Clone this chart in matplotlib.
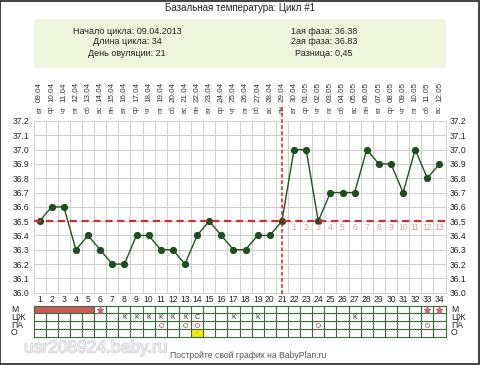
import numpy as np
import matplotlib
matplotlib.use("Agg")
import matplotlib.pyplot as plt
import matplotlib.transforms as mtransforms
import matplotlib.patheffects as pe

plt.rcParams['font.family'] = ['Liberation Sans', 'DejaVu Sans']

# data
days = np.arange(1, 35)
temps = [36.5, 36.6, 36.6, 36.3, 36.4, 36.3, 36.2, 36.2, 36.4, 36.4,
         36.3, 36.3, 36.2, 36.4, 36.5, 36.4, 36.3, 36.3, 36.4, 36.4,
         36.5, 37.0, 37.0, 36.5, 36.7, 36.7, 36.7, 37.0, 36.9, 36.9,
         36.7, 37.0, 36.8, 36.9]
dates = ['09.04', '10.04', '11.04', '12.04', '13.04', '14.04', '15.04', '16.04',
         '17.04', '18.04', '19.04', '20.04', '21.04', '22.04', '23.04', '24.04',
         '25.04', '26.04', '27.04', '28.04', '29.04', '30.04', '01.05', '02.05',
         '03.05', '04.05', '05.05', '06.05', '07.05', '08.05', '09.05', '10.05',
         '11.05', '12.05']
weekdays = ['вт', 'ср', 'чт', 'пт', 'сб', 'вс', 'пн'] * 5
ovulation_day = 21
cover_line = 36.5
phase2_days = list(range(22, 35))

# table rows
menses_fill = [1, 2, 3, 4, 5]
menses_star = [6, 33, 34]
cervix = {8: 'К', 9: 'К', 10: 'К', 11: 'К', 12: 'К', 13: 'К', 14: 'С',
          17: 'К', 19: 'К', 27: 'К'}
pa_days = [11, 13, 14, 24, 33]
o_days = [14]
row_labels = ['М', 'ЦЖ', 'ПА', 'О']

W, H = 480, 365
fig = plt.figure(figsize=(W / 100, H / 100), dpi=100)
fig.patch.set_facecolor('white')

def fx(px):
    return px / W

def fy(py):
    return 1 - py / H

# frame around the image
fig.patches.append(plt.Rectangle((0.001, 0.002), 0.997, 0.996, transform=fig.transFigure,
                                 fill=False, edgecolor='#222222', lw=1.2))

# header
fig.text(fx(240), fy(8), 'Базальная температура: Цикл #1', ha='center', va='center',
         fontsize=7, color='#222222')
fig.patches.append(plt.Rectangle((fx(34), fy(68)), fx(412), 49 / H, transform=fig.transFigure,
                                 facecolor='#eef5dc', edgecolor='none'))
left_info = ['Начало цикла: 09.04.2013', 'Длина цикла: 34', 'День овуляции: 21']
right_info = ['1ая фаза: 36.38', '2ая фаза: 36.83', 'Разница: 0,45']
for i, (a, b) in enumerate(zip(left_info, right_info)):
    y = fy(31 + i * 11)
    fig.text(fx(127), y, a, ha='center', va='center', fontsize=6.5, color='#222222')
    fig.text(fx(324), y, b, ha='center', va='center', fontsize=6.5, color='#222222')

# main chart
ax = fig.add_axes([fx(33.5), fy(292.7), fx(412), 171.7 / H])
ax.set_xlim(0.5, 34.5)
ax.set_ylim(36.0, 37.2)
yt = np.round(np.arange(36.0, 37.21, 0.1), 1)
ax.set_yticks(yt)
ax.set_xticks(days)
ax.set_xticks(np.arange(0.5, 35, 1), minor=True)
ax.tick_params(axis='both', which='both', length=0, labelsize=6.2, colors='#222222')
ax.tick_params(axis='y', labelright=True, pad=3)
ax.tick_params(axis='x', pad=2)
ax.set_yticklabels([f'{v:.1f}' for v in yt])
ax.grid(True, which='minor', axis='x', color='#cfcfcf', lw=0.7)
ax.grid(True, which='major', axis='y', color='#cfcfcf', lw=0.7)
for s in ax.spines.values():
    s.set_color('#cfcfcf')
    s.set_linewidth(0.7)

ax.plot(days, temps, color='#1e531e', lw=1.0, marker='o', markersize=4.2,
        markerfacecolor='#1e4d1e', markeredgecolor='#1e4d1e', zorder=3)
ax.axhline(cover_line, color='#d42a2a', lw=1.5, dashes=(3.5, 2.2), zorder=4)
ax.plot([ovulation_day, ovulation_day], [35.99, 37.31], color='#cc2222', lw=1.1,
        dashes=(2.5, 1.5), clip_on=False, zorder=4)
for i, d in enumerate(phase2_days):
    ax.text(d, 36.455, str(i + 1), ha='center', va='center', fontsize=6.2, color='#c9a3a3')

# dates and weekdays above
tr = mtransforms.blended_transform_factory(ax.transData, fig.transFigure)
for d, ds, wd in zip(days, dates, weekdays):
    ax.text(d, fy(102), ds, rotation=90, ha='center', va='bottom', fontsize=5.8,
            color='#333333', transform=tr, clip_on=False)
    ax.text(d, fy(113), wd, rotation=90, ha='center', va='bottom', fontsize=5.2,
            color='#444444', transform=tr, clip_on=False)

# table
tab = fig.add_axes([fx(33.5), fy(336.7), fx(412), 31 / H])
tab.set_xlim(0.5, 34.5)
tab.set_ylim(4, 0)
tab.set_xticks([])
tab.set_yticks([])
gc = '#3a6a3a'
for s in tab.spines.values():
    s.set_color(gc)
    s.set_linewidth(0.8)
for d in menses_fill:
    tab.add_patch(plt.Rectangle((d - 0.5, 0), 1, 1, facecolor='#cc5a5a', edgecolor='none'))
for d in o_days:
    tab.add_patch(plt.Rectangle((d - 0.5, 3), 1, 1, facecolor='#f5f000', edgecolor='none'))
    tab.text(d, 3.5, '-', ha='center', va='center', fontsize=5, color='#555555')
for x in np.arange(1.5, 34.5, 1):
    lo = 1 if x < 5.5 else 0
    tab.plot([x, x], [lo, 4], color=gc, lw=0.8)
for y in [1, 2, 3]:
    tab.axhline(y, color=gc, lw=0.8)
tab.plot(menses_star, [0.5] * len(menses_star), ls='none', marker='*', markersize=5,
         color='#cc6677')
for d, c in cervix.items():
    tab.text(d, 1.5, c, ha='center', va='center', fontsize=5, color='#222222')
tab.plot(pa_days, [2.5] * len(pa_days), ls='none', marker='o', markersize=3,
         markerfacecolor='none', markeredgecolor='#d08888', markeredgewidth=0.8)
for i, lab in enumerate(row_labels):
    y = fy(305.7 + 7.75 * (i + 0.5))
    fig.text(fx(11), y, lab, ha='left', va='center', fontsize=6.2, color='#222222')
    fig.text(fx(451), y, lab, ha='left', va='center', fontsize=6.2, color='#222222')

# watermark and footer
fig.text(fx(24), fy(348), 'usr208924.baby.ru', ha='left', va='center', fontsize=12.5,
         color='#f4f4f4', alpha=0.75,
         path_effects=[pe.withStroke(linewidth=1.0, foreground='#c4c4c4')])
fig.text(fx(248), fy(355.5), 'Постройте свой график на BabyPlan.ru', ha='center',
         va='center', fontsize=6.2, color='#555555')

fig.savefig('out.png', dpi=100, facecolor='white')
